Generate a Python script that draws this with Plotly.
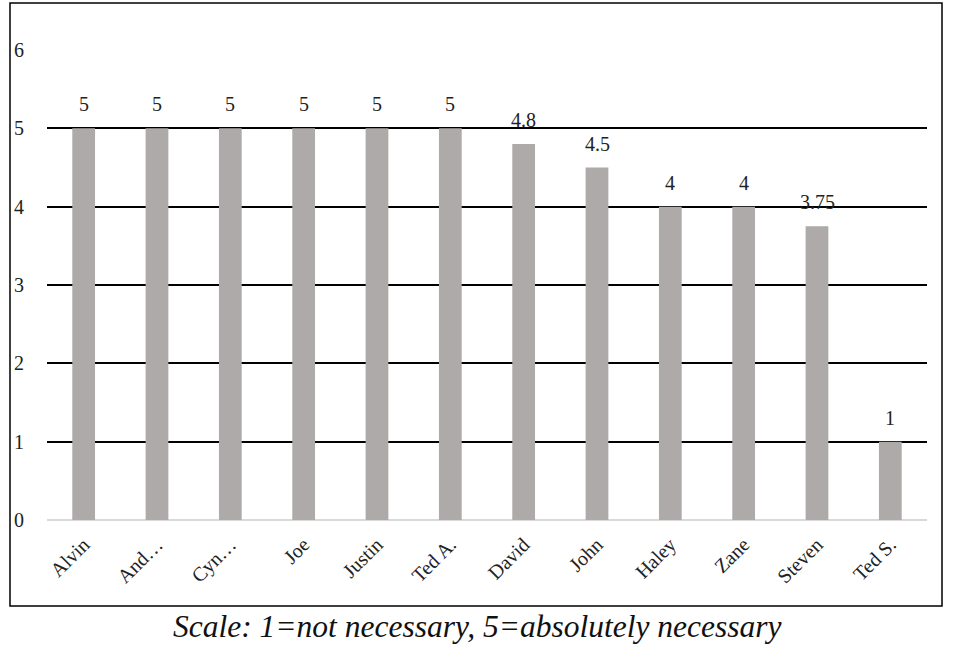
import plotly.graph_objects as go

names = ["Alvin", "And…", "Cyn…", "Joe", "Justin", "Ted A.", "David", "John", "Haley", "Zane", "Steven", "Ted S."]
scores = [5, 5, 5, 5, 5, 5, 4.8, 4.5, 4, 4, 3.75, 1]
labels = ["5", "5", "5", "5", "5", "5", "4.8", "4.5", "4", "4", "3.75", "1"]
yticks = [0, 1, 2, 3, 4, 5, 6]
caption = "Scale: 1=not necessary, 5=absolutely necessary"

SERIF = "Liberation Serif"
W, H = 959, 647
L, R, T, B = 47, 32, 50, 127
pw, ph = W - L - R, H - T - B
FS = 20

fig = go.Figure(go.Bar(
    x=names, y=scores,
    marker=dict(color="#ADAAA9", line=dict(width=0)),
    hoverinfo="skip",
))

anns = [dict(x=n, y=v, text=t, xref="x", yref="y", showarrow=False,
             xanchor="center", yanchor="bottom", yshift=11,
             font=dict(family=SERIF, size=FS, color="#222"))
        for n, v, t in zip(names, scores, labels)]
anns.append(dict(text="<i>" + caption + "</i>", xref="paper", yref="paper",
                 x=(477 - L) / pw, y=(H - B - 626) / ph, showarrow=False,
                 xanchor="center", yanchor="middle",
                 font=dict(family=SERIF, size=31.5, color="#111")))

fig.update_layout(
    width=W, height=H,
    margin=dict(l=L, r=R, t=T, b=B, autoexpand=False),
    paper_bgcolor="white", plot_bgcolor="white",
    bargap=0.69, showlegend=False,
    font=dict(family=SERIF, size=FS, color="#222"),
    xaxis=dict(tickangle=-45, showgrid=False, showline=False, ticks="",
               ticklabelstandoff=8,
               tickfont=dict(family=SERIF, size=FS)),
    yaxis=dict(range=[0, 6], tickvals=yticks, showgrid=True, gridcolor="#000",
               gridwidth=1.5, zeroline=True, zerolinecolor="#D9D9D9", zerolinewidth=2,
               showline=False, ticks="", ticklabelstandoff=22,
               tickfont=dict(family=SERIF, size=FS)),
    shapes=[dict(type="rect", xref="paper", yref="paper",
                 x0=(10 - L) / pw, x1=(942 - L) / pw,
                 y0=(H - B - 606) / ph, y1=(H - B - 3) / ph,
                 line=dict(color="#000", width=1.5), fillcolor="rgba(0,0,0,0)")],
    annotations=anns,
)

fig.write_html("out.html", config={"displayModeBar": False},
               post_script="document.body.style.margin='0';")
